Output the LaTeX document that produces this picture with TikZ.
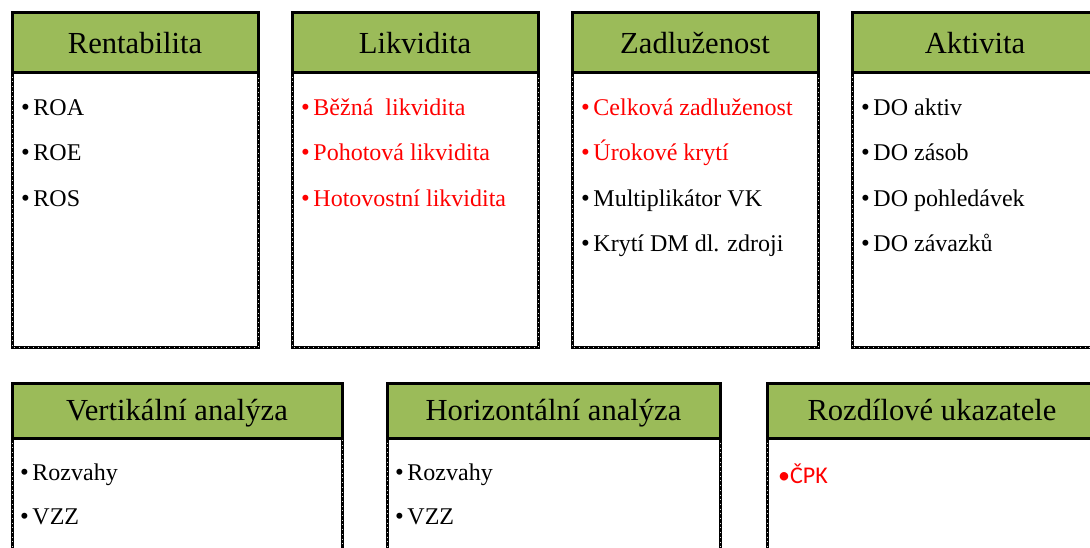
\documentclass[tikz,border=0pt]{standalone}
\usepackage{fontspec}
\setmainfont{Liberation Serif}
\newfontfamily\calibfont{Carlito}
\definecolor{hgreen}{RGB}{155,187,89}
\definecolor{itred}{RGB}{255,0,0}
\newcommand\mybul{{\fontsize{25}{28}\selectfont\textbullet}\hspace{3.5pt}}
\begin{document}
\begin{tikzpicture}[x=1pt,y=-1pt,
  hdr/.style={draw=black,line width=3pt,fill=hgreen,anchor=north west,inner sep=0pt,outer sep=0pt,font=\fontsize{30.6}{36}\selectfont},
  hdrtop/.style={hdr,minimum width=246pt,minimum height=60pt,text height=25pt,text depth=2.4pt},
  hdrbot/.style={hdr,minimum height=55pt,text height=23pt,text depth=4pt},
  body/.style={draw=black,line width=3pt,fill=white,anchor=north west,inner sep=0pt,outer sep=0pt},
  dots/.style={draw=white!85!black,line width=0.7pt,dash pattern=on 0.7pt off 4pt},
  item/.style={anchor=base west,inner sep=0pt,font=\fontsize{24}{28}\selectfont},
  reditem/.style={item,text=itred}]
\useasboundingbox (0,0) rectangle (1090,547);
\clip (0,0) rectangle (1090,547);

% top row bodies
\node[body,minimum width=246pt,minimum height=275pt] (b1) at (12,72) {};
\node[body,minimum width=246pt,minimum height=275pt] (b2) at (292,72) {};
\node[body,minimum width=246pt,minimum height=275pt] (b3) at (572,72) {};
\node[body,minimum width=246pt,minimum height=275pt] (b4) at (852,72) {};
% bottom row bodies
\node[body,minimum width=330pt,minimum height=130pt] (b5) at (12,438) {};
\node[body,minimum width=333pt,minimum height=130pt] (b6) at (387,438) {};
\node[body,minimum width=330pt,minimum height=130pt] (b7) at (767,438) {};
\foreach \b in {b1,b2,b3,b4,b5,b6,b7}
  \draw[dots] (\b.north west) rectangle (\b.south east);

% headers
\node[hdrtop] (h1) at (12,12) {Rentabilita};
\node[hdrtop] (h2) at (292,12) {Likvidita};
\node[hdrtop] (h3) at (572,12) {Zadluženost};
\node[hdrtop] (h4) at (852,12) {Aktivita};
\node[hdrbot,minimum width=330pt] (h5) at (12,383) {Vertikální analýza};
\node[hdrbot,minimum width=333pt] (h6) at (387,383) {Horizontální analýza};
\node[hdrbot,minimum width=330pt] (h7) at (767,383) {Rozdílové ukazatele};

% Rentabilita
\node[item] (r1) at (21,115) {\mybul ROA};
\node[item] (r2) at (21,160.5) {\mybul ROE};
\node[item] (r3) at (21,206) {\mybul ROS};
% Likvidita
\node[reditem] (l1) at (301,115) {\mybul Běžná~~likvidita};
\node[reditem] (l2) at (301,160.5) {\mybul Pohotová likvidita};
\node[reditem] (l3) at (301,206) {\mybul Hotovostní likvidita};
% Zadluzenost
\node[reditem] (z1) at (581,115) {\mybul Celková zadluženost};
\node[reditem] (z2) at (581,160.5) {\mybul Úrokové krytí};
\node[item] (z3) at (581,206) {\mybul Multiplikátor VK};
\node[item] (z4) at (581,251) {\mybul Krytí DM dl. zdroji};
% Aktivita
\node[item] (a1) at (861,115) {\mybul DO aktiv};
\node[item] (a2) at (861,160.5) {\mybul DO zásob};
\node[item] (a3) at (861,206) {\mybul DO pohledávek};
\node[item] (a4) at (861,251) {\mybul DO závazků};
% Vertikalni
\node[item] (v1) at (20,480) {\mybul Rozvahy};
\node[item] (v2) at (20,524) {\mybul VZZ};
% Horizontalni
\node[item] (o1) at (395,480) {\mybul Rozvahy};
\node[item] (o2) at (395,524) {\mybul VZZ};
% Rozdilove
\node[anchor=base west,inner sep=0pt,text=itred,font=\calibfont\fontsize{24}{28}\selectfont] (c1) at (778,483) {•ČPK};
\end{tikzpicture}
\end{document}
